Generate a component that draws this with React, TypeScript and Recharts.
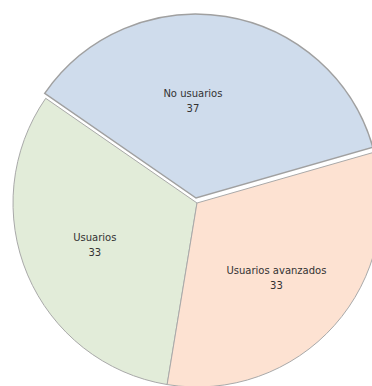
import { Cell, Pie, PieChart } from "recharts";

const categories = ["No usuarios", "Usuarios", "Usuarios avanzados"];
const values = [37, 33, 33];
const colors = ["#cfdcec", "#e2ecd9", "#fde2d2"];

// label placement tweaks per slice (angle offset in degrees, radius fraction)
const labelTweak = [
  { da: 10, rf: 0.52 },
  { da: 3, rf: 0.6 },
  { da: -3, rf: 0.63 },
];

const data = categories.map((name, i) => ({ name, value: values[i] }));

const RADIAN = Math.PI / 180;

function renderLabel(props: any) {
  const { cx, cy, midAngle, outerRadius, name, value, index } = props;
  const t = labelTweak[index] || { da: 0, rf: 0.58 };
  const a = (midAngle + t.da) * RADIAN;
  const r = outerRadius * t.rf;
  const x = cx + r * Math.cos(-a);
  const y = cy + r * Math.sin(-a);
  return (
    <text
      x={x}
      y={y}
      textAnchor="middle"
      fill="#333"
      fontSize={10}
      fontFamily="DejaVu Sans, sans-serif"
    >
      <tspan x={x} dy={-3}>
        {name}
      </tspan>
      <tspan x={x} dy={15}>
        {value}
      </tspan>
    </text>
  );
}

export default function App() {
  return (
    <div style={{ position: "absolute", left: 0, top: 0, background: "#fff" }}>
      <PieChart width={372} height={386}>
        {/* green + orange slices */}
        <Pie
          data={data}
          dataKey="value"
          nameKey="name"
          cx={192}
          cy={198}
          outerRadius={184}
          startAngle={16}
          endAngle={376}
          strokeWidth={1}
          label={false}
          labelLine={false}
          isAnimationActive={false}
        >
          {data.map((d, i) => (
            <Cell
              key={d.name}
              fill={i === 0 ? "transparent" : colors[i]}
              stroke={i === 0 ? "none" : "#a9a9a9"}
            />
          ))}
        </Pie>
        {/* exploded blue slice */}
        <Pie
          data={data}
          dataKey="value"
          nameKey="name"
          cx={191}
          cy={193}
          outerRadius={184}
          startAngle={16}
          endAngle={376}
          strokeWidth={1.5}
          label={false}
          labelLine={false}
          isAnimationActive={false}
        >
          {data.map((d, i) => (
            <Cell
              key={d.name}
              fill={i === 0 ? colors[0] : "transparent"}
              stroke={i === 0 ? "#a0a0a0" : "none"}
            />
          ))}
        </Pie>
        {/* labels only */}
        <Pie
          data={data}
          dataKey="value"
          nameKey="name"
          cx={189}
          cy={191}
          outerRadius={184}
          startAngle={16}
          endAngle={376}
          fill="transparent"
          stroke="none"
          label={renderLabel}
          labelLine={false}
          isAnimationActive={false}
        />
      </PieChart>
    </div>
  );
}
